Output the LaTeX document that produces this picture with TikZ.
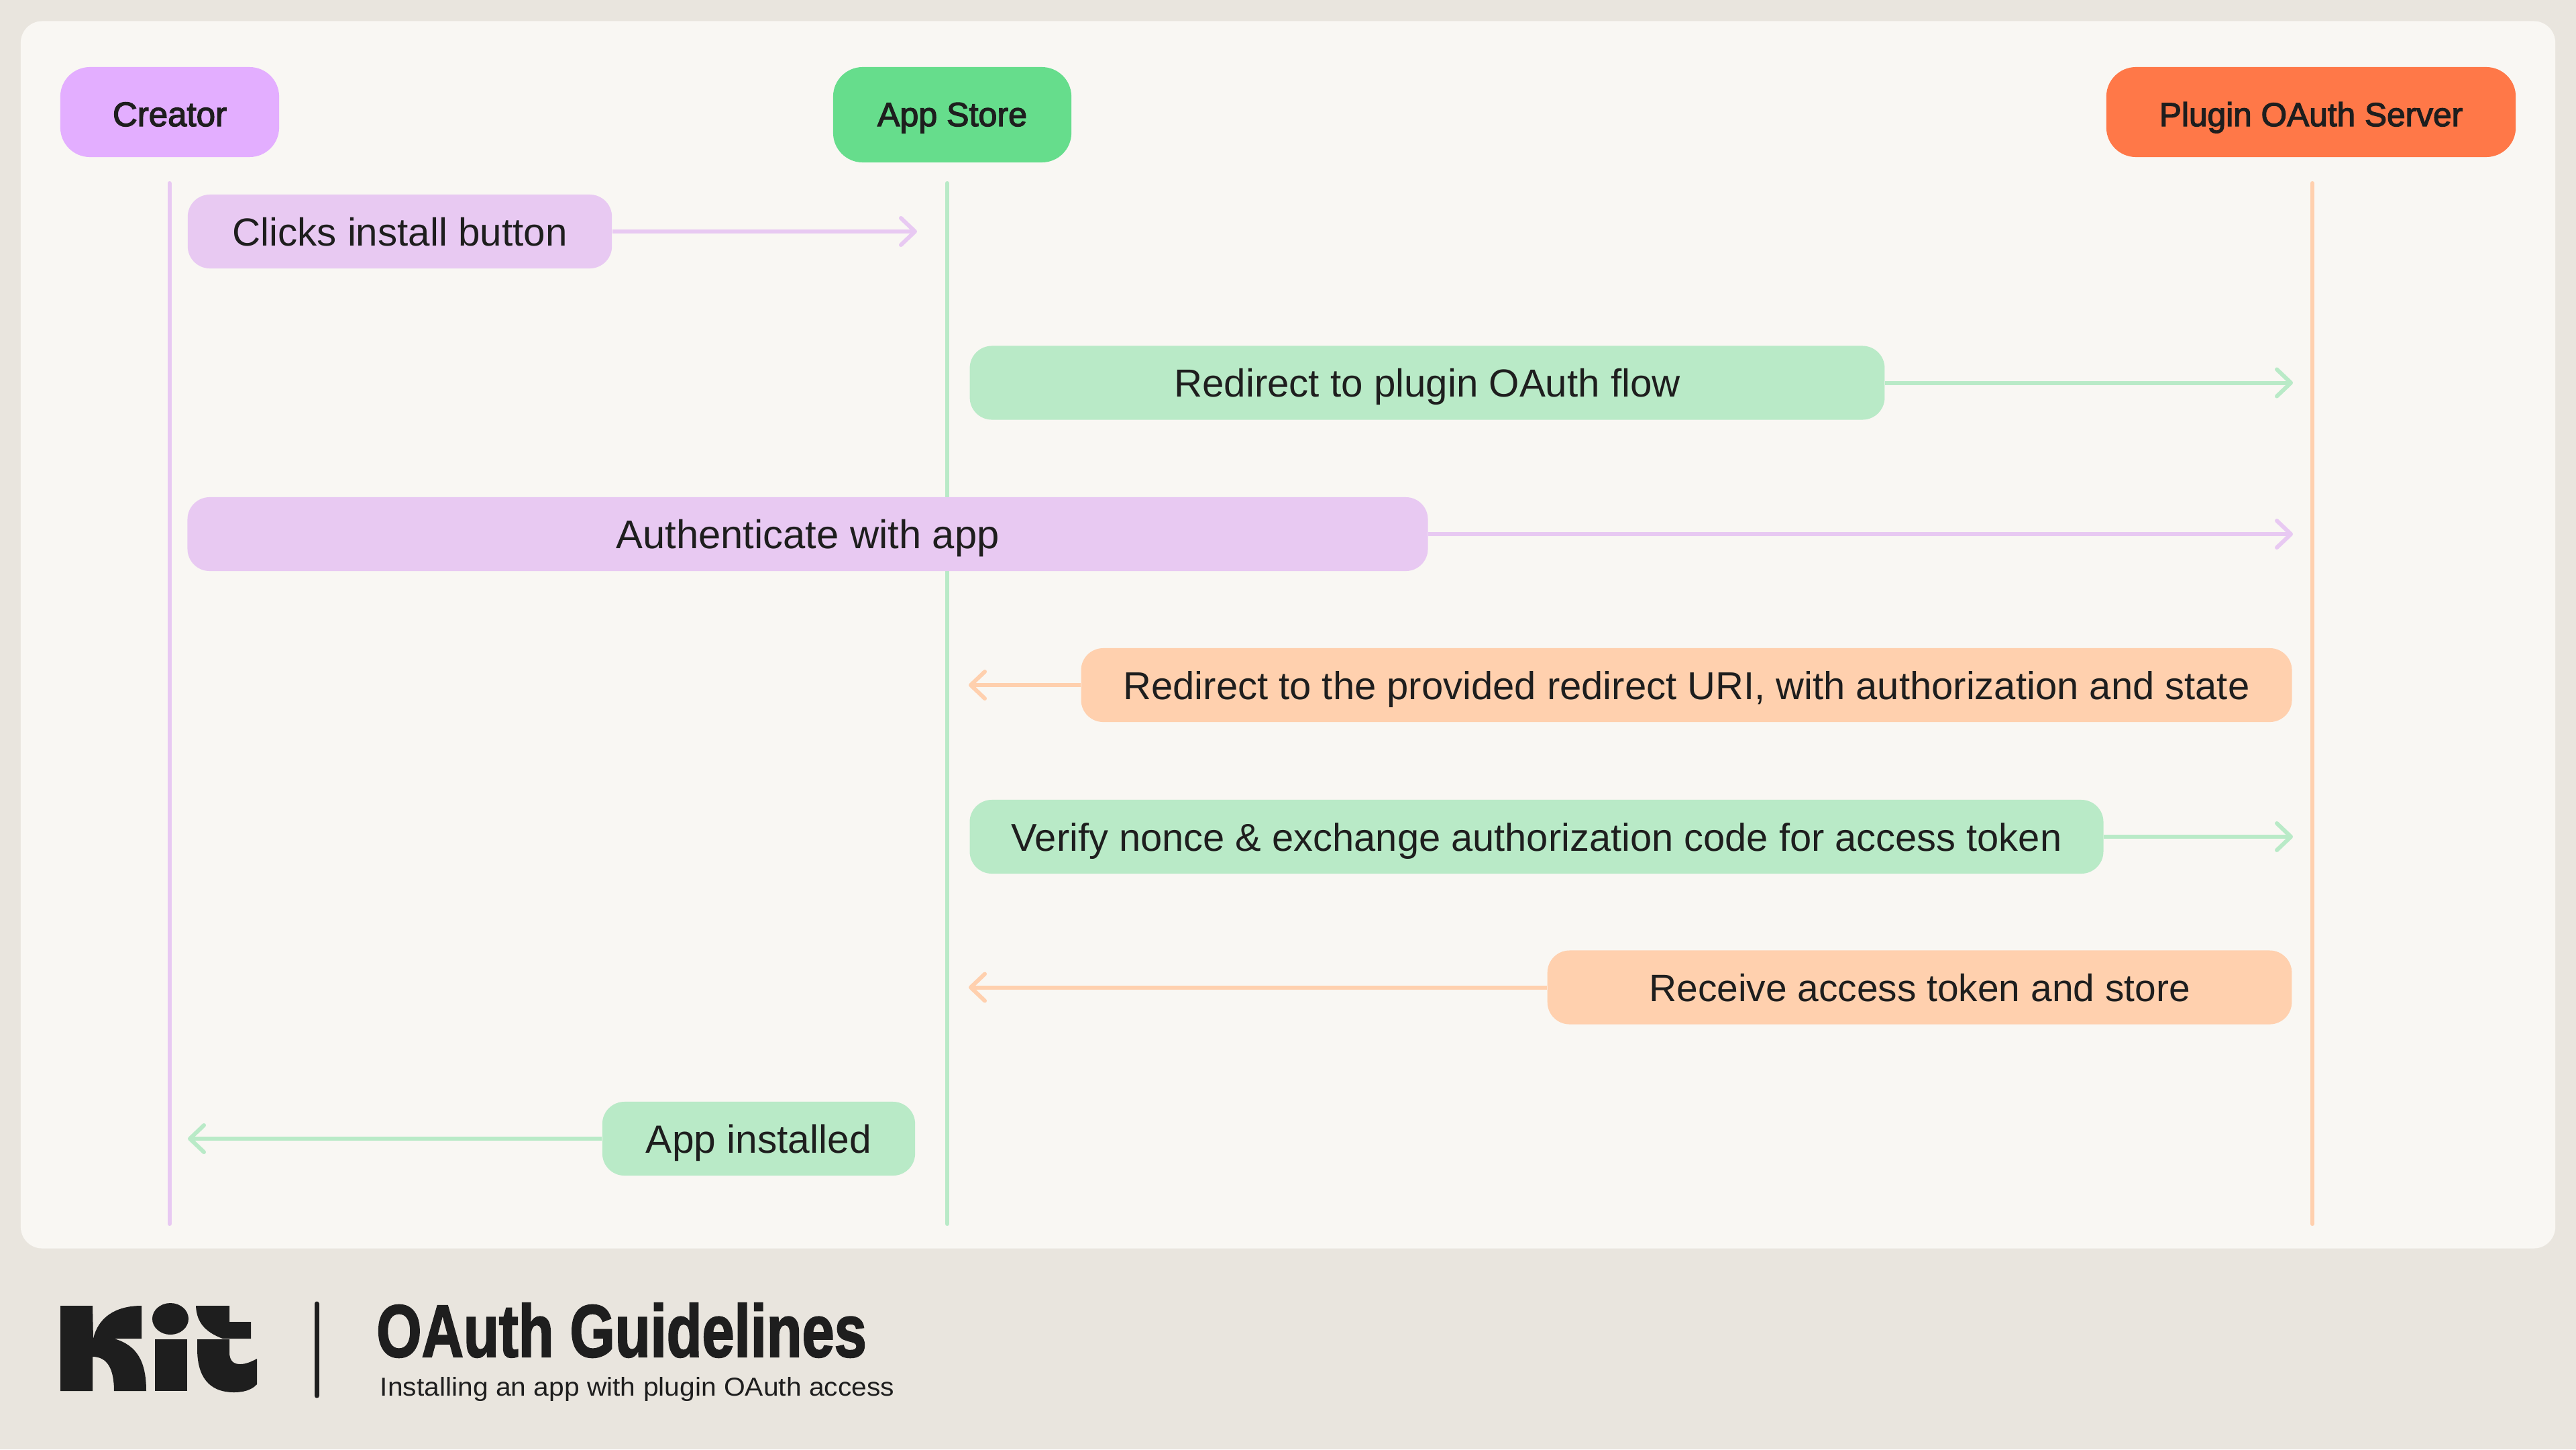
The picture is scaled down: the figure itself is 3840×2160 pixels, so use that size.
\documentclass[tikz,border=0pt]{standalone}
\usepackage{fontspec}
\usepackage{graphicx}
\usetikzlibrary{arrows.meta}
\setmainfont{Liberation Sans}
\newfontfamily\hdfont[FakeBold=2.6]{Liberation Sans}
\newfontfamily\ttlfont[FakeBold=2.2]{Liberation Sans Bold}
\definecolor{pagebg}{HTML}{E9E5DE}
\definecolor{panelbg}{HTML}{F9F7F3}
\definecolor{ink}{HTML}{1E1E1E}
\definecolor{purplehd}{HTML}{E3AEFF}
\definecolor{greenhd}{HTML}{66DD8C}
\definecolor{orangehd}{HTML}{FF7848}
\definecolor{purplelt}{HTML}{E8C9F2}
\definecolor{greenlt}{HTML}{B9EAC7}
\definecolor{orangelt}{HTML}{FFD0AE}
% label fitted to a width, baseline set a fixed distance below the node centre
\newcommand{\fitlbl}[3]{\raisebox{-#3}[0pt][0pt]{\resizebox{#1}{!}{#2}}}
\tikzset{
  x=0.01cm,y=-0.01cm,
  hdbox/.style={rectangle,rounded corners=0.44cm,inner sep=0pt,text=ink,font=\hdfont\fontsize{15}{18}\selectfont},
  msgbox/.style={rectangle,rounded corners=0.33cm,inner sep=0pt,minimum height=1.10cm,text=ink,font=\fontsize{17}{20}\selectfont},
  life/.style={line width=0.06cm,line cap=round},
  msg/.style={line width=0.06cm,-{Straight Barb[length=0.21cm,width=0.40cm,round,line width=0.06cm]}},
  brand/.style={inner sep=0pt,text=ink},
  logo/.style={fill=ink,draw=none},
}
\begin{document}
\begin{tikzpicture}
\useasboundingbox (0,0) rectangle (3840,2160);
\fill[pagebg] (0,0) rectangle (3840,2160);
\node[rectangle,fill=panelbg,rounded corners=0.32cm,inner sep=0pt,minimum width=37.76cm,minimum height=18.28cm] (panel) at (1920,946) {};

% lifeline ends
\coordinate (ca) at (252.5,273); \coordinate (cb) at (252.5,1824);
\coordinate (aa) at (1412,273);  \coordinate (ab) at (1412,1824);
\coordinate (pa) at (3447,273);  \coordinate (pb) at (3447,1824);
\draw[life,purplelt] (ca) -- (cb);
\draw[life,greenlt] (aa) -- (ab);
\draw[life,orangelt] (pa) -- (pb);

% headers
\node[hdbox,fill=purplehd,minimum width=3.26cm,minimum height=1.34cm] (creator) at (253,167) {\fitlbl{1.70cm}{Creator}{0.21cm}};
\node[hdbox,fill=greenhd,minimum width=3.55cm,minimum height=1.42cm] (store) at (1419.5,171) {\fitlbl{2.23cm}{App Store}{0.17cm}};
\node[hdbox,fill=orangehd,minimum width=6.10cm,minimum height=1.34cm] (server) at (3445,167) {\fitlbl{4.52cm}{Plugin OAuth Server}{0.21cm}};

% arrow tips
\coordinate (t1) at (1367,345);
\coordinate (t2) at (3418,570.5);
\coordinate (t3) at (3418,796);
\coordinate (t4) at (1444,1021);
\coordinate (t5) at (3418,1247);
\coordinate (t6) at (1444,1471.5);
\coordinate (t7) at (280,1697);

% messages
\node[msgbox,fill=purplelt,minimum width=6.32cm] (m1) at (596,345) {\fitlbl{4.99cm}{Clicks install button}{0.21cm}};
\node[msgbox,fill=greenlt,minimum width=13.63cm] (m2) at (2127.5,570.5) {\fitlbl{7.54cm}{Redirect to plugin OAuth flow}{0.21cm}};
\node[msgbox,fill=purplelt,minimum width=18.48cm] (m3) at (1204,796) {\fitlbl{5.71cm}{Authenticate with app}{0.21cm}};
\node[msgbox,fill=orangelt,minimum width=18.04cm] (m4) at (2514,1021) {\fitlbl{16.78cm}{Redirect to the provided redirect URI, with authorization and state}{0.21cm}};
\node[msgbox,fill=greenlt,minimum width=16.89cm] (m5) at (2290.5,1247) {\fitlbl{15.65cm}{Verify nonce \& exchange authorization code for access token}{0.21cm}};
\node[msgbox,fill=orangelt,minimum width=11.09cm] (m6) at (2861.5,1471.5) {\fitlbl{8.06cm}{Receive access token and store}{0.21cm}};
\node[msgbox,fill=greenlt,minimum width=4.66cm] (m7) at (1131,1697) {\fitlbl{3.36cm}{App installed}{0.21cm}};

\draw[msg,purplelt] (m1.east) -- (t1);
\draw[msg,greenlt] (m2.east) -- (t2);
\draw[msg,purplelt] (m3.east) -- (t3);
\draw[msg,orangelt] (m4.west) -- (t4);
\draw[msg,greenlt] (m5.east) -- (t5);
\draw[msg,orangelt] (m6.west) -- (t6);
\draw[msg,greenlt] (m7.west) -- (t7);

% Kit logo
\fill[logo] (90,1946) -- (138,1946) -- (139,1995) .. controls (146,1965) and (170,1946) .. (211,1946) -- (211,1995) -- (170,1995) .. controls (205,2005) and (218,2030) .. (218,2073) -- (170,2073) .. controls (170,2040) and (160,2022) .. (138,2022) -- (138,2073) -- (90,2073) -- cycle;
\fill[logo] (254,1965.5) ellipse [x radius=27,y radius=23.5];
\fill[logo] (231,1996) rectangle (279,2073);
\fill[logo] (292,1946) -- (342,1946) -- (342,1970) -- (374,1970) -- (374,1995) -- (332,1995) .. controls (305,1985) and (293,1970) .. (292,1946) -- cycle;
\fill[logo] (294,1996) -- (342,1996) -- (342,2015) .. controls (342,2030) and (350,2033) .. (358,2033) .. controls (368,2033) and (377,2028) .. (383,2025) -- (383,2063) .. controls (375,2072) and (362,2075) .. (349,2075) .. controls (310,2075) and (294,2050) .. (294,2010) -- cycle;
\coordinate (da) at (472,1943); \coordinate (db) at (472,2080);
\draw[ink,line width=0.07cm,line cap=round] (da) -- (db);

% title
\node[brand] (title) at (926.5,1982.5) {\resizebox{7.30cm}{0.80cm}{\ttlfont OAuth Guidelines}};
\node[brand] (subtitle) at (950,2070) {\resizebox*{7.66cm}{0.36cm}{Installing an app with plugin OAuth access}};
\end{tikzpicture}
\end{document}
